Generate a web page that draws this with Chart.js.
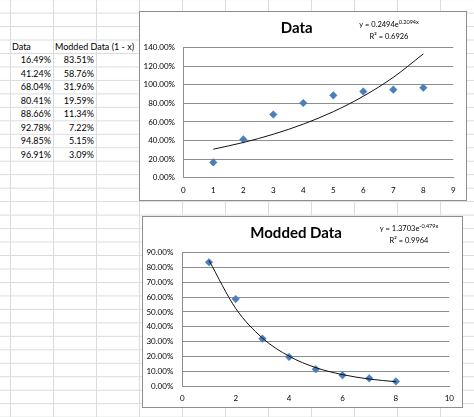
<!DOCTYPE html>
<html>
<head>
<meta charset="utf-8">
<script src="https://cdn.jsdelivr.net/npm/chart.js@4.4.1/dist/chart.umd.min.js"></script>
<style>
  html, body { margin: 0; padding: 0; }
  body {
    width: 474px; height: 417px; overflow: hidden; position: relative; background: #fff;
    background-image: linear-gradient(to right, #d9dbdc 1px, transparent 1px),
                      linear-gradient(to bottom, #d9dbdc 1px, transparent 1px);
    background-size: 43px 13.47px;
    background-position: 10px 12.6px;
    font-family: Lato, sans-serif;
  }
  .cell { position: absolute; font-size: 9px; line-height: 12px; color: #000; white-space: nowrap; }
  .num { text-align: right; width: 42px; }
  .box { position: absolute; background: #fff; border: 1px solid #8e8e8e; box-sizing: border-box; }
</style>
</head>
<body>
<div class="box" style="left:139px;top:11px;width:328px;height:190px"><canvas id="chart1"></canvas></div>
<div class="box" style="left:142px;top:216px;width:321px;height:192px"><canvas id="chart2"></canvas></div>
<script>
// sheet columns
const xValues = [1, 2, 3, 4, 5, 6, 7, 8];
const dataValues = [0.1649, 0.4124, 0.6804, 0.8041, 0.8866, 0.9278, 0.9485, 0.9691];
const moddedValues = [0.8351, 0.5876, 0.3196, 0.1959, 0.1134, 0.0722, 0.0515, 0.0309];

// trendlines as drawn (at x = 1..8)
const dataTrend = [0.307, 0.379, 0.468, 0.577, 0.711, 0.877, 1.081, 1.333];
const moddedTrend = [0.848, 0.524, 0.324, 0.201, 0.124, 0.077, 0.047, 0.029];

// trendline labels
const dataEq = { coef: '0.2494', exp: '0.2094x', r2: '0.6926' };
const moddedEq = { coef: '1.3703', exp: '-0.479x', r2: '0.9964' };

// spreadsheet text
function cell(text, left, top, cls) {
    const d = document.createElement('div');
    d.className = 'cell' + (cls ? ' ' + cls : '');
    d.textContent = text;
    d.style.left = left + 'px';
    d.style.top = top + 'px';
    document.body.appendChild(d);
}
const pct = v => (v * 100).toFixed(2) + '%';
const ROW = 13.47;
cell('Data', 12, 40.7);
cell('Modded Data (1 - x)', 55, 40.7);
for (let i = 0; i < dataValues.length; i++) {
    const top = 54.4 + ROW * i;
    cell(pct(dataValues[i]), 9, top, 'num');
    cell(pct(moddedValues[i]), 52, top, 'num');
}

const FONT = 'Lato, sans-serif';
const GRID = '#8d8d8d';
const BLUE = '#4a7ebb';

// equation + R² in the top right, with a raised exponent
const eqLabel = {
    id: 'eqLabel',
    afterDraw(chart, args, o) {
        const ctx = chart.ctx;
        ctx.save();
        ctx.fillStyle = '#000';
        ctx.textBaseline = 'middle';
        const main = 'y = ' + o.eq.coef + 'e';
        ctx.font = '7.5px ' + FONT;
        const w1 = ctx.measureText(main).width;
        ctx.font = '5.5px ' + FONT;
        const w2 = ctx.measureText(o.eq.exp).width;
        let x = o.x - (w1 + w2) / 2;
        ctx.font = '7.5px ' + FONT;
        ctx.textAlign = 'left';
        ctx.fillText(main, x, o.y);
        ctx.font = '5.5px ' + FONT;
        ctx.fillText(o.eq.exp, x + w1, o.y - 3);
        ctx.font = '7.5px ' + FONT;
        ctx.textAlign = 'center';
        ctx.fillText('R\u00b2 = ' + o.eq.r2, o.x, o.y + 11.5);
        ctx.restore();
    }
};

function makeChart(id, s) {
    const ctx = document.getElementById(id).getContext('2d');
    return new Chart(ctx, {
        type: 'scatter',
        data: {
            datasets: [{
                data: xValues.map((x, i) => ({ x: x, y: s.trend[i] })),
                showLine: true,
                borderColor: '#111',
                borderWidth: 1,
                pointRadius: 0,
                cubicInterpolationMode: 'monotone',
                order: 0
            }, {
                data: xValues.map((x, i) => ({ x: x, y: s.values[i] })),
                pointStyle: 'rectRot',
                pointRadius: 3.8,
                backgroundColor: BLUE,
                borderColor: BLUE,
                borderWidth: 0.5,
                order: 1
            }]
        },
        options: {
            responsive: true,
            maintainAspectRatio: false,
            animation: false,
            layout: { padding: { left: 0, right: s.padRight, top: 0, bottom: 0 } },
            plugins: {
                legend: { display: false },
                tooltip: { enabled: false },
                title: {
                    display: true,
                    text: s.title,
                    color: '#000',
                    font: { family: FONT, size: 15, weight: 'bold' },
                    padding: { top: 7, bottom: 10.7 }
                },
                eqLabel: { x: s.eqX, y: s.eqY, eq: s.eq }
            },
            scales: {
                x: {
                    type: 'linear',
                    min: 0, max: s.xMax,
                    grid: { display: false, drawTicks: false },
                    border: { display: true, color: GRID, width: 1 },
                    ticks: { stepSize: s.xStep, padding: 8, color: '#000', font: { family: FONT, size: 8 } },
                    afterFit: sc => { sc.height = s.xHeight; }
                },
                y: {
                    min: 0, max: s.yMax,
                    grid: { color: GRID, drawTicks: false },
                    border: { display: true, color: GRID, width: 1 },
                    ticks: {
                        stepSize: s.yStep, padding: s.yPad, color: '#000',
                        font: { family: FONT, size: 8 },
                        callback: v => pct(v)
                    },
                    afterFit: sc => { sc.width = s.yWidth; }
                }
            }
        },
        plugins: [eqLabel]
    });
}

makeChart('chart1', {
    title: 'Data', values: dataValues, trend: dataTrend, eq: dataEq,
    xMax: 9, xStep: 1, yMax: 1.4, yStep: 0.2,
    yWidth: 43.3, yPad: 8.3, xHeight: 22.3, padRight: 12.7,
    eqX: 249, eqY: 13
});
makeChart('chart2', {
    title: 'Modded Data', values: moddedValues, trend: moddedTrend, eq: moddedEq,
    xMax: 10, xStep: 2, yMax: 0.9, yStep: 0.1,
    yWidth: 39.3, yPad: 9, xHeight: 21, padRight: 12.7,
    eqX: 266, eqY: 12
});
</script>
</body>
</html>
